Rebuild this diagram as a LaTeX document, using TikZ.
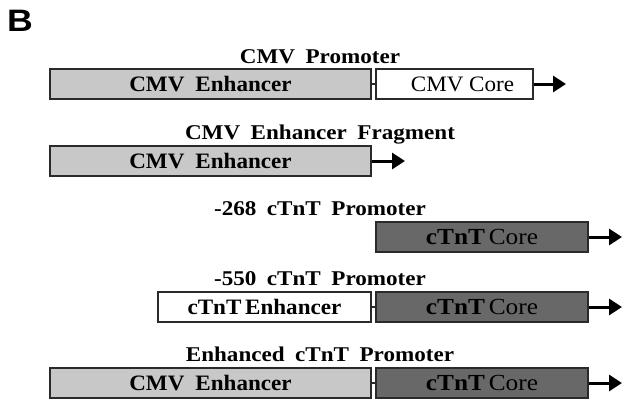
\documentclass[tikz,border=0pt]{standalone}
\usepackage{fontspec}
\setmainfont{Liberation Serif}
\newfontfamily\capfont{Liberation Serif}[FakeStretch=1.1]
\newfontfamily\boxfont{Liberation Serif}[FakeStretch=1.05]
\newfontfamily\corefont{Liberation Serif}[FakeStretch=1.1]
\newfontfamily\panelfont{Liberation Sans}[FakeStretch=1.15]
\newcommand\wgap{\hspace{0.5em}}
\usetikzlibrary{arrows.meta}
\definecolor{lightbox}{HTML}{C8C8C8}
\definecolor{darkbox}{HTML}{686868}
\definecolor{edge}{HTML}{2A2A2A}
\begin{document}
\begin{tikzpicture}[x=1pt,y=-1pt,
  seg/.style={draw=edge,line width=2pt,minimum height=30pt,inner sep=0pt,
    anchor=west,text=black},
  cmvenh/.style={seg,fill=lightbox,font=\boxfont\bfseries\fontsize{22}{22}\selectfont},
  cmvcore/.style={seg,fill=white,font=\boxfont\fontsize{22}{22}\selectfont},
  tnenh/.style={seg,fill=white,font=\boxfont\bfseries\fontsize{22}{22}\selectfont},
  tncore/.style={seg,fill=darkbox,font=\corefont\fontsize{23}{23}\selectfont},
  caption/.style={anchor=base,inner sep=0pt,font=\capfont\bfseries\fontsize{21}{21}\selectfont},
  link/.style={draw=edge,line width=2pt},
  tss/.style={draw=black,line width=3pt,-{Triangle[length=13pt,width=16pt]}}
]
\useasboundingbox (0,0) rectangle (624,400);

% panel letter
\node[anchor=north west,inner sep=0pt,font=\panelfont\bfseries\fontsize{31}{31}\selectfont] (panel) at (7,10) {B};

% CMV promoter
\node[caption] (t1) at (320,63) {CMV\wgap Promoter};
\node[cmvenh,minimum width=321pt] (e1) at (49,84) {CMV\wgap Enhancer};
\node[cmvcore,minimum width=157pt] (c1) at (375,84) {\hspace{16pt}CMV Core};
\draw[link] (e1.east) -- (c1.west);
\coordinate (a1) at (566,84);
\draw[tss] (c1.east) -- (a1);

% CMV enhancer fragment
\node[caption] (t2) at (320,139) {CMV\wgap Enhancer\wgap Fragment};
\node[cmvenh,minimum width=321pt] (e2) at (49,161) {CMV\wgap Enhancer};
\coordinate (a2) at (405,161);
\draw[tss] (e2.east) -- (a2);

% -268 cTnT promoter
\node[caption] (t3) at (320,215) {-268\wgap cTnT\wgap Promoter};
\node[tncore,minimum width=212pt] (c3) at (375,237) {\textbf{cTnT}\,Core\hspace{14pt}};
\coordinate (a3) at (622,237);
\draw[tss] (c3.east) -- (a3);

% -550 cTnT promoter
\node[caption] (t4) at (320,285) {-550\wgap cTnT\wgap Promoter};
\node[tnenh,minimum width=213pt] (e4) at (157,307) {cTnT\,Enhancer};
\node[tncore,minimum width=212pt] (c4) at (375,307) {\textbf{cTnT}\,Core\hspace{14pt}};
\draw[link] (e4.east) -- (c4.west);
\coordinate (a4) at (622,307);
\draw[tss] (c4.east) -- (a4);

% enhanced cTnT promoter
\node[caption] (t5) at (320,361) {Enhanced\wgap cTnT\wgap Promoter};
\node[cmvenh,minimum width=321pt] (e5) at (49,383) {CMV\wgap Enhancer};
\node[tncore,minimum width=212pt] (c5) at (375,383) {\textbf{cTnT}\,Core\hspace{14pt}};
\draw[link] (e5.east) -- (c5.west);
\coordinate (a5) at (622,383);
\draw[tss] (c5.east) -- (a5);
\end{tikzpicture}
\end{document}
